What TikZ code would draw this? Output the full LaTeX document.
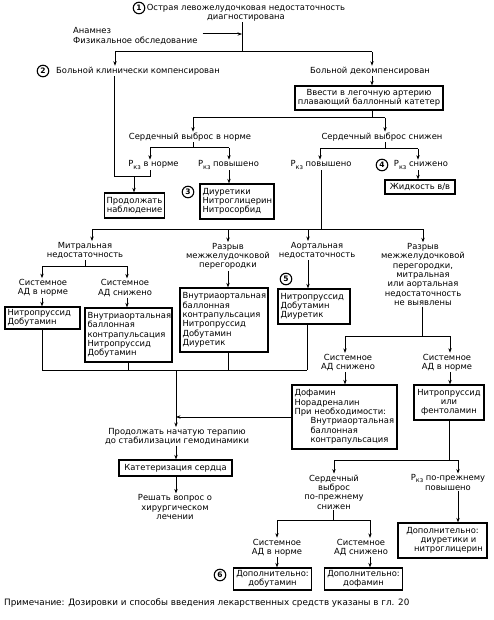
\documentclass[tikz,border=0pt]{standalone}
\usepackage{fontspec}
\setmainfont{DejaVu Sans}
\usetikzlibrary{arrows.meta}
\newcommand\pkz{P\raisebox{-0.45ex}{\fontsize{6.5}{6.5}\selectfont кз}}
\begin{document}
\begin{tikzpicture}[x=1pt,y=-1pt,
  every node/.style={font=\fontsize{8.4}{9.3}\selectfont, inner sep=1pt},
  lbl/.style={align=center},
  box/.style={draw, line width=1.3pt, inner xsep=2.5pt, inner ysep=1pt},
  lbox/.style={box, align=left},
  cbox/.style={box, align=center},
  con/.style={line width=1pt},
  arr/.style={con, -{Stealth[length=4.5pt,width=3.4pt]}},
  num/.style={circle, draw, line width=1.1pt, inner sep=0.4pt, minimum size=11.5pt, font=\fontsize{7.5}{7.5}\selectfont\bfseries}
]
\fill[white] (0,0) rectangle (493,620);
\useasboundingbox (0,0) rectangle (493,620);

% top
\node[num] (c1) at (139,8) {1};
\node[lbl] (top) at (246,12.5) {Острая левожелудочковая недостаточность\\диагностирована};
\node[align=left, anchor=west] (anam) at (72,36) {Анамнез\\Физикальное обследование};
\coordinate (v0) at (242,22);
\coordinate (j1) at (242,52);
\coordinate (j1l) at (115,52);
\coordinate (j1r) at (372,52);
\draw[con] (v0 |- top.south) -- (j1);
\draw[arr] ([xshift=4pt,yshift=2pt]anam.east) -- ([yshift=2pt]anam.east -| v0);
\draw[con] (j1l) -- (j1r);

\node[num] (c2) at (43,71) {2};
\node[lbl] (comp) at (138,71) {Больной клинически компенсирован};
\node[lbl] (decomp) at (370,71) {Больной декомпенсирован};
\draw[arr] (j1l) -- (j1l |- comp.north);
\draw[arr] (j1r) -- (j1r |- decomp.north);

\node[cbox, minimum width=148, minimum height=24] (cath1) at (369,98) {Ввести в легочную артерию\\плавающий баллонный катетер};
\draw[arr] (j1r |- decomp.south) -- (j1r |- cath1.north);

\coordinate (j2) at (372,118);
\coordinate (j2l) at (193,118);
\coordinate (j2r) at (385,118);
\draw[con] (j2 |- cath1.south) -- (j2);
\draw[con] (j2l) -- (j2r);
\node[lbl] (conorm) at (190,137) {Сердечный выброс в норме};
\node[lbl] (colow) at (382,137) {Сердечный выброс снижен};
\draw[arr] (j2l) -- (j2l |- conorm.north);
\draw[arr] (j2r) -- (j2r |- colow.north);

\coordinate (j3l) at (150,148);
\coordinate (j3r) at (229,148);
\draw[con] (j2l |- conorm.south) -- (j2l |- j3l);
\draw[con] (j3l) -- (j3r);
\node[lbl] (pkzn1) at (153.5,165) {\pkz{} в норме};
\node[lbl] (pkzh1) at (228.5,165) {\pkz{} повышено};
\draw[arr] (j3l) -- (j3l |- pkzn1.north);
\draw[arr] (j3r) -- (j3r |- pkzh1.north);

\coordinate (j4l) at (320,149);
\coordinate (j4r) at (418,149);
\draw[con] (j2r |- colow.south) -- (j2r |- j4l);
\draw[con] (j4l) -- (j4r);
\node[lbl] (pkzh2) at (321,165) {\pkz{} повышено};
\node[num] (c4) at (382,165) {4};
\node[lbl] (pkzl) at (421,165) {\pkz{} снижено};
\draw[arr] (j4l) -- (j4l |- pkzh2.north);
\draw[arr] (j4r) -- (j4r |- pkzl.north);

% observation
\coordinate (j5) at (114,177);
\coordinate (j5r) at (150,177);
\coordinate (j5m) at (134,177);
\draw[con] (j5 |- comp.south) -- (j5) -- (j5r) -- (j3l |- pkzn1.south);
\node[cbox, minimum width=59, minimum height=25] (obs) at (134.5,205.5) {Продолжать\\наблюдение};
\draw[arr] (j5m) -- (j5m |- obs.north);

\node[lbox, text width=69, minimum height=35] (diur) at (237,201.5) {Диуретики\\Нитроглицерин\\Нитросорбид};
\node[num] (c3) at (188,192) {3};
\draw[arr] (j3r |- pkzh1.south) -- (j3r |- diur.north);

\node[cbox, minimum width=70, minimum height=14] (fluid) at (420,187) {Жидкость в/в};
\draw[arr] (j4r |- pkzl.south) -- (j4r |- fluid.north);

% bus 229
\coordinate (j6) at (321,229);
\coordinate (j6a) at (92,229);
\coordinate (j6b) at (228,229);
\coordinate (j6c) at (308,229);
\coordinate (j6d) at (423,229);
\draw[con] (pkzh2.south) -- (j6);
\draw[con] (j6a) -- (j6d);

\node[lbl] (mitr) at (85,250.5) {Митральная\\недостаточность};
\node[lbl] (vsd) at (228,256.5) {Разрыв\\межжелудочковой\\перегородки};
\node[lbl] (aort) at (317,250.5) {Аортальная\\недостаточность};
\node[lbl] (none) at (423,274.5) {Разрыв\\межжелудочковой\\перегородки,\\митральная\\или аортальная\\недостаточность\\не выявлены};
\draw[arr] (j6a) -- (j6a |- mitr.north);
\draw[arr] (j6b) -- (j6b |- vsd.north);
\draw[arr] (j6c) -- (j6c |- aort.north);
\draw[arr] (j6d) -- (j6d |- none.north);

% mitral
\coordinate (j7) at (85,266);
\coordinate (j7l) at (42,266);
\coordinate (j7r) at (127,266);
\draw[con] (mitr.south) -- (j7);
\draw[con] (j7l) -- (j7r);
\node[lbl] (sadn1) at (43,288) {Системное\\АД в норме};
\node[lbl] (sadl1) at (125,288) {Системное\\АД снижено};
\draw[arr] (j7l) -- (j7l |- sadn1.north);
\draw[arr] (j7r) -- (j7r |- sadl1.north);
\node[lbox, text width=70, minimum height=22] (b1) at (42.5,318) {Нитропруссид\\Добутамин};
\node[lbox, text width=82, minimum height=54] (b2) at (128.5,335) {Внутриаортальная\\баллонная\\контрапульсация\\Нитропруссид\\Добутамин};
\draw[arr] (j7l |- sadn1.south) -- (j7l |- b1.north);
\draw[arr] (j7r |- sadl1.south) -- (j7r |- b2.north);

\node[lbox, text width=83, minimum height=64] (b3) at (224,320) {Внутриаортальная\\баллонная\\контрапульсация\\Нитропруссид\\Добутамин\\Диуретик};
\draw[arr] (vsd.south) -- (vsd.south |- b3.north);

\node[num] (c5) at (286,279) {5};
\node[lbox, text width=67, minimum height=35] (b4) at (314,306.5) {Нитропруссид\\Добутамин\\Диуретик};
\draw[arr] (j6c |- aort.south) -- (j6c |- b4.north);

% none
\coordinate (j8) at (422,336);
\coordinate (j8l) at (345,336);
\coordinate (j8r) at (450,336);
\draw[con] (j8 |- none.south) -- (j8);
\draw[con] (j8l) -- (j8r);
\node[lbl] (sadl2) at (348,362.5) {Системное\\АД снижено};
\node[lbl] (sadn2) at (447,362.5) {Системное\\АД в норме};
\draw[arr] (j8l) -- (j8l |- sadl2.north);
\draw[arr] (j8r) -- (j8r |- sadn2.north);
\node[lbox, text width=100, minimum height=64] (dopa) at (344.5,417) {Дофамин\\Норадреналин\\При необходимости:\\\hspace*{16pt}Внутриаортальная\\\hspace*{16pt}баллонная\\\hspace*{16pt}контрапульсация};
\node[cbox, minimum width=70, minimum height=35] (nit2) at (449,402.5) {Нитропруссид\\или\\фентоламин};
\draw[arr] (j8l |- sadl2.south) -- (j8l |- dopa.north);
\draw[arr] (j8r |- sadn2.south) -- (j8r |- nit2.north);

% left bottom bus
\coordinate (j9l) at (42,370);
\coordinate (j9r) at (307,370);
\coordinate (j9m) at (176,370);
\draw[con] (j9l |- b1.south) -- (j9l);
\draw[con] (b2.south) -- (b2.south |- j9l);
\draw[con] (j6b |- b3.south) -- (j6b |- j9l);
\draw[con] (j9r |- b4.south) -- (j9r);
\draw[con] (j9l) -- (j9r);
\node[lbl] (cont) at (177,436.5) {Продолжать начатую терапию\\до стабилизации гемодинамики};
\draw[arr] (j9m) -- (j9m |- cont.north);
\draw[arr] (dopa.west) -- (dopa.west -| j9m);

\node[cbox, minimum width=113, minimum height=16] (cath2) at (175.5,468) {Катетеризация сердца};
\draw[arr] (j9m |- cont.south) -- (j9m |- cath2.north);
\node[lbl] (surg) at (175,507) {Решать вопрос о\\хирургическом\\лечении};
\draw[arr] (j9m |- cath2.south) -- (j9m |- surg.north);

% right lower
\coordinate (j10) at (449,460);
\coordinate (j10l) at (334,460);
\coordinate (j10r) at (458,460);
\draw[con] (nit2.south) -- (nit2.south |- j10);
\draw[con] (j10l) -- (j10r);
\node[lbl] (costill) at (334,492) {Сердечный\\выброс\\по-прежнему\\снижен};
\node[lbl] (pkzst) at (448,482.5) {\pkz{} по-прежнему\\повышено};
\draw[arr] (j10l) -- (j10l |- costill.north);
\draw[arr] (j10r) -- (j10r |- pkzst.north);
\node[cbox, minimum width=89, minimum height=35] (add1) at (442.5,540.5) {Дополнительно:\\\hspace*{12pt}диуретики и\\\hspace*{12pt}нитроглицерин};
\draw[arr] (j10r |- pkzst.south) -- (j10r |- add1.north);

\coordinate (j11) at (333,520);
\coordinate (j11l) at (277,520);
\coordinate (j11r) at (370,520);
\draw[con] (j11 |- costill.south) -- (j11);
\draw[con] (j11l) -- (j11r);
\node[lbl] (sadn3) at (277,547.5) {Системное\\АД в норме};
\node[lbl] (sadl3) at (361,547.5) {Системное\\АД снижено};
\draw[arr] (j11l) -- (j11l |- sadn3.north);
\draw[arr] (j11r) -- (j11r |- sadl3.north);
\node[cbox, minimum width=71, minimum height=22] (adddob) at (272.5,579) {Дополнительно:\\добутамин};
\node[cbox, minimum width=73, minimum height=22] (adddof) at (363.5,579) {Дополнительно:\\дофамин};
\node[num] (c6) at (220,575) {6};
\draw[arr] (j11l |- sadn3.south) -- (j11l |- adddob.north);
\draw[arr] (j11r |- sadl3.south) -- (j11r |- adddof.north);

\node[anchor=west, font=\fontsize{8.8}{10}\selectfont] (note) at (3,603) {Примечание: Дозировки и способы введения лекарственных средств указаны в гл. 20};
\end{tikzpicture}
\end{document}
